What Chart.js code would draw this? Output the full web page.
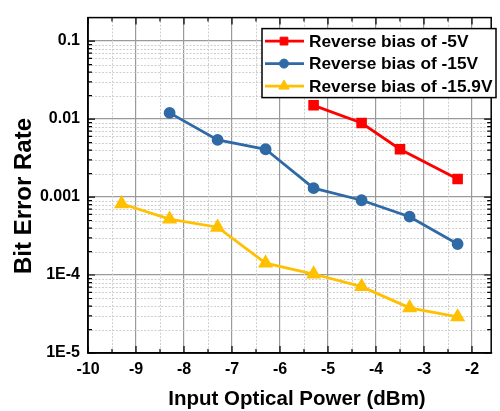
<!DOCTYPE html>
<html lang="en">
<head>
<meta charset="UTF-8">
<title>Bit Error Rate vs Input Optical Power</title>
<style>
  body { margin: 0; background: #fff; }
  #wrap { width: 500px; height: 411px; }
</style>
<script src="https://cdn.jsdelivr.net/npm/chart.js"></script>
</head>
<body>
<div id="wrap"><canvas id="berChart" width="500" height="411"></canvas></div>
<script>
// data
const powerMinus5V = [-5.3, -4.3, -3.5, -2.3];
const berMinus5V = [0.015, 0.0089, 0.0041, 0.0017];

const powerMinus15V = [-8.3, -7.3, -6.3, -5.3, -4.3, -3.3, -2.3];
const berMinus15V = [0.012, 0.0054, 0.0041, 0.0013, 0.00091, 0.00056, 0.00025];

const powerMinus159V = [-9.3, -8.3, -7.3, -6.3, -5.3, -4.3, -3.3, -2.3];
const berMinus159V = [0.00082, 0.00052, 0.00041, 0.000142, 0.000103, 0.000071, 0.000038, 0.000029];

const seriesLabels = ['Reverse bias of -5V', 'Reverse bias of -15V', 'Reverse bias of -15.9V'];

const xTickValues = [-10, -9, -8, -7, -6, -5, -4, -3, -2];
const yTickValues = [1e-5, 1e-4, 1e-3, 1e-2, 1e-1];
const yTickLabels = ['1E-5', '1E-4', '0.001', '0.01', '0.1'];

const FONT = 'Arial, "Liberation Sans", sans-serif';
Chart.defaults.font.family = FONT;
Chart.defaults.font.weight = 'bold';
Chart.defaults.color = '#000';

function toPoints(xs, ys) {
    return xs.map((x, i) => ({ x: x, y: ys[i] }));
}

// minor positions: half units on x, 2..9 per decade on y
function minorX(scale) {
    const out = [];
    for (let v = scale.min + 0.5; v < scale.max; v += 1) out.push(v);
    return out;
}
function minorY(scale) {
    const out = [];
    for (let e = -5; e <= 0; e++) {
        for (let k = 2; k <= 9; k++) {
            const v = k * Math.pow(10, e);
            if (v > scale.min && v < scale.max) out.push(v);
        }
    }
    return out;
}

const framePlugin = {
    id: 'frame',
    beforeDatasetsDraw(chart) {
        const { ctx, chartArea: a, scales: { x, y } } = chart;
        ctx.save();
        ctx.strokeStyle = '#cfcfcf';
        ctx.lineWidth = 1;
        ctx.setLineDash([2, 1.5]);
        minorX(x).forEach(v => {
            const px = Math.round(x.getPixelForValue(v)) + 0.5;
            ctx.beginPath(); ctx.moveTo(px, a.top); ctx.lineTo(px, a.bottom); ctx.stroke();
        });
        minorY(y).forEach(v => {
            const py = Math.round(y.getPixelForValue(v)) + 0.5;
            ctx.beginPath(); ctx.moveTo(a.left, py); ctx.lineTo(a.right, py); ctx.stroke();
        });
        ctx.restore();
    },
    afterDatasetsDraw(chart) {
        const { ctx, chartArea: a, scales: { x, y } } = chart;
        ctx.save();
        ctx.strokeStyle = '#000';
        ctx.lineWidth = 1.5;
        ctx.strokeRect(a.left, a.top, a.right - a.left, a.bottom - a.top);

        // inward tick marks on all four sides
        ctx.lineWidth = 1.2;
        const tickX = (v, len) => {
            const px = x.getPixelForValue(v);
            ctx.beginPath();
            ctx.moveTo(px, a.bottom); ctx.lineTo(px, a.bottom - len);
            ctx.moveTo(px, a.top); ctx.lineTo(px, a.top + len);
            ctx.stroke();
        };
        const tickY = (v, len) => {
            const py = y.getPixelForValue(v);
            ctx.beginPath();
            ctx.moveTo(a.left, py); ctx.lineTo(a.left + len, py);
            ctx.moveTo(a.right, py); ctx.lineTo(a.right - len, py);
            ctx.stroke();
        };
        xTickValues.forEach(v => tickX(v, 7));
        minorX(x).forEach(v => tickX(v, 4));
        yTickValues.forEach(v => tickY(v, 7));
        minorY(y).forEach(v => tickY(v, 4));

        // legend box
        const lx = a.left + 174, ly = a.top + 11, lw = 234, lh = 69;
        ctx.fillStyle = '#fff';
        ctx.fillRect(lx, ly, lw, lh);
        ctx.lineWidth = 1.5;
        ctx.strokeRect(lx, ly, lw, lh);
        ctx.font = 'bold 17.3px ' + FONT;
        ctx.textBaseline = 'middle';
        ctx.textAlign = 'left';
        chart.data.datasets.forEach((ds, i) => {
            const ry = ly + 12.5 + i * 22.5;
            ctx.strokeStyle = ds.borderColor;
            ctx.lineWidth = ds.borderWidth;
            ctx.beginPath(); ctx.moveTo(lx + 3, ry); ctx.lineTo(lx + 42, ry); ctx.stroke();
            ctx.fillStyle = ds.backgroundColor;
            ctx.lineWidth = 1;
            Chart.helpers.drawPoint(ctx, { pointStyle: ds.pointStyle, radius: ds.pointRadius, borderWidth: 1, rotation: 0 }, lx + 22, ry);
            ctx.fillStyle = '#000';
            ctx.fillText(ds.label, lx + 47, ry + 1);
        });

        // axis titles
        ctx.fillStyle = '#000';
        ctx.textAlign = 'center';
        ctx.font = 'bold 20.5px ' + FONT;
        ctx.fillText('Input Optical Power (dBm)', a.left + 209, 399);
        ctx.translate(23, 196);
        ctx.rotate(-Math.PI / 2);
        ctx.font = 'bold 24px ' + FONT;
        ctx.fillText('Bit Error Rate', 0, 1);
        ctx.restore();
    }
};

new Chart(document.getElementById('berChart'), {
    type: 'line',
    data: {
        datasets: [{
            label: seriesLabels[0],
            data: toPoints(powerMinus5V, berMinus5V),
            borderColor: '#ff0000',
            backgroundColor: '#ff0000',
            pointStyle: 'rect',
            pointRadius: 5.5,
            borderWidth: 2.8
        }, {
            label: seriesLabels[1],
            data: toPoints(powerMinus15V, berMinus15V),
            borderColor: '#2f6aa6',
            backgroundColor: '#2f6aa6',
            pointStyle: 'circle',
            pointRadius: 4.5,
            borderWidth: 2.8
        }, {
            label: seriesLabels[2],
            data: toPoints(powerMinus159V, berMinus159V),
            borderColor: '#ffc000',
            backgroundColor: '#ffc000',
            pointStyle: 'triangle',
            pointRadius: 6,
            borderWidth: 2.8
        }]
    },
    options: {
        responsive: false,
        animation: false,
        layout: { padding: { top: 13, right: 0, bottom: 0, left: 0 } },
        plugins: {
            legend: { display: false },
            tooltip: { enabled: false }
        },
        scales: {
            x: {
                type: 'linear',
                min: -10,
                max: -1.6,
                afterBuildTicks: s => { s.ticks = xTickValues.map(v => ({ value: v })); },
                afterFit: s => { s.height = 58; },
                grid: { color: '#9a9a9a', lineWidth: 1.2, drawTicks: false },
                border: { color: '#000', width: 1.5 },
                ticks: { font: { size: 16, weight: 'bold' }, padding: 7, maxRotation: 0, autoSkip: false }
            },
            y: {
                type: 'logarithmic',
                min: 1e-5,
                max: 0.2,
                afterBuildTicks: s => { s.ticks = yTickValues.map(v => ({ value: v })); },
                afterFit: s => { s.width = 88; },
                grid: { color: '#9a9a9a', lineWidth: 1.2, drawTicks: false },
                border: { color: '#000', width: 1.5 },
                ticks: {
                    font: { size: 16, weight: 'bold' },
                    padding: 8,
                    autoSkip: false,
                    callback: v => {
                        const i = yTickValues.findIndex(t => Math.abs(Math.log10(t) - Math.log10(v)) < 1e-6);
                        return i >= 0 ? yTickLabels[i] : '';
                    }
                }
            }
        }
    },
    plugins: [framePlugin]
});
</script>
</body>
</html>
